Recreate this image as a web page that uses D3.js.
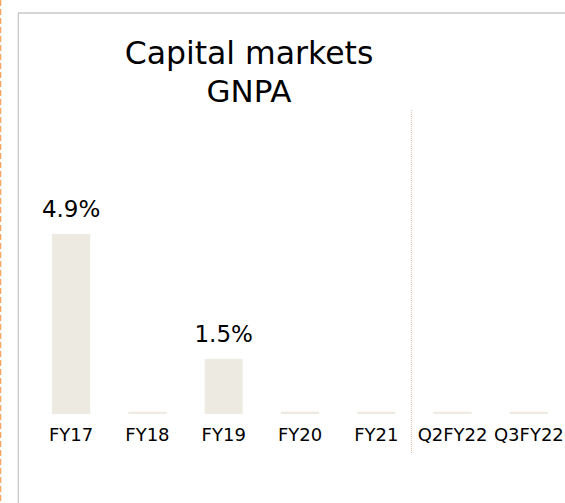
<!DOCTYPE html>
<html><head><meta charset="utf-8">
<script src="https://cdn.jsdelivr.net/npm/d3@7/dist/d3.min.js"></script>
<style>html,body{margin:0;padding:0;background:#fff;}svg{display:block;}</style>
</head><body>
<svg id="c" width="565" height="503"></svg>
<script>
const categories = ["FY17","FY18","FY19","FY20","FY21","Q2FY22","Q3FY22"];
const values = [4.9, 0, 1.5, 0, 0, 0, 0];
const titleLines = ["Capital markets", "GNPA"];
const dividerAfter = "FY21";

const svg = d3.select("#c");
const font = "DejaVu Sans, Verdana, sans-serif";

// left dashed orange line
svg.append("line").attr("x1",0.5).attr("x2",0.5).attr("y1",0).attr("y2",503)
  .attr("stroke","#f4a55e").attr("stroke-width",1.5).attr("stroke-dasharray","6,3");
// gray frame
svg.append("line").attr("x1",18).attr("x2",565).attr("y1",13).attr("y2",13)
  .attr("stroke","#c9c9c9").attr("stroke-width",1.3);
svg.append("line").attr("x1",18.3).attr("x2",18.3).attr("y1",13).attr("y2",503)
  .attr("stroke","#c9c9c9").attr("stroke-width",1.3);

const x = d3.scaleBand().domain(categories).range([33,567]).paddingInner(0.5).paddingOuter(0.25);
const y = d3.scaleLinear().domain([0,4.9]).range([414,234]);

// title
svg.append("text").attr("x",249).attr("y",64).attr("text-anchor","middle")
  .attr("font-family",font).attr("font-size",31.5).attr("fill","#000").text(titleLines[0]);
svg.append("text").attr("x",249).attr("y",102).attr("text-anchor","middle")
  .attr("font-family",font).attr("font-size",31).attr("fill","#000").text(titleLines[1]);

// divider
const iDiv = categories.indexOf(dividerAfter);
const xDiv = (x(categories[iDiv]) + x.bandwidth() + x(categories[iDiv+1]))/2 - 3;
svg.append("line").attr("x1",xDiv).attr("x2",xDiv).attr("y1",110).attr("y2",453)
  .attr("stroke","#e6bfa0").attr("stroke-width",1).attr("stroke-dasharray","1,1");

const data = categories.map((c,i)=>({c, v:values[i]}));
const minH = 2.3;
svg.selectAll("rect.bar").data(data).enter().append("rect").attr("class","bar")
  .attr("x",d=>x(d.c)).attr("width",x.bandwidth())
  .attr("y",d=>Math.min(y(d.v), y(0)-minH))
  .attr("height",d=>Math.max(y(0)-y(d.v), minH))
  .attr("fill","#edebe1");

svg.selectAll("text.val").data(data.filter(d=>d.v>0)).enter().append("text").attr("class","val")
  .attr("x",d=>x(d.c)+x.bandwidth()/2).attr("y",d=>y(d.v)-17.3)
  .attr("text-anchor","middle").attr("font-family",font).attr("font-size",23).attr("fill","#000")
  .text(d=>d3.format(".1f")(d.v)+"%");

const xAxis = d3.axisBottom(x).tickSize(0).tickPadding(0);
const gx = svg.append("g").attr("transform","translate(0,428)").call(xAxis);
gx.select(".domain").remove();
gx.selectAll("text").attr("font-family",font).attr("font-size",18).attr("fill","#000").attr("dy","0.71em");
</script>
</body></html>
